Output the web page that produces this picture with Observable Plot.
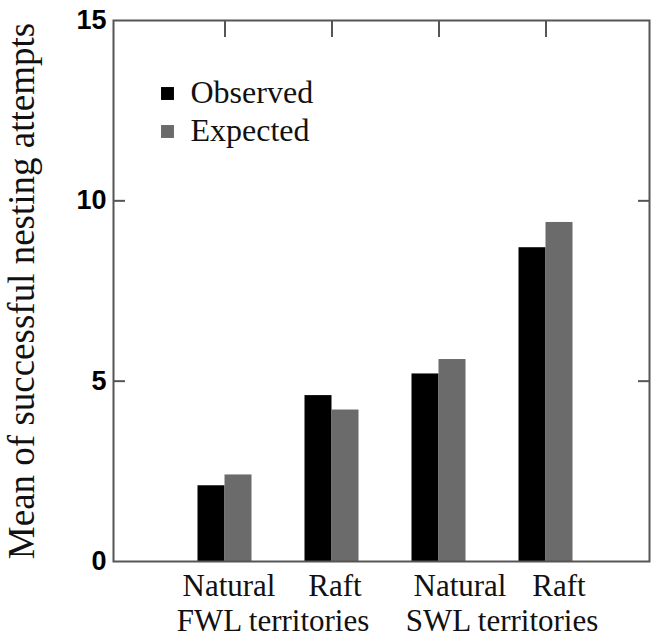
<!DOCTYPE html>
<html>
<head>
<meta charset="utf-8">
<script src="https://cdn.jsdelivr.net/npm/d3@7"></script>
<script src="https://cdn.jsdelivr.net/npm/@observablehq/plot@0.6"></script>
<style>
  html, body { margin: 0; padding: 0; background: #fff; }
  #chart { width: 651px; height: 637px; }
  svg [aria-label="y-axis tick label"] { font-family: "Liberation Sans", Arial, sans-serif; font-size: 27px; font-weight: bold; }
</style>
</head>
<body>
<div id="chart"></div>
<script>
const groups = ["Natural FWL", "Raft FWL", "Natural SWL", "Raft SWL"];
const series = ["Observed", "Expected"];
const observed = [2.1, 4.6, 5.2, 8.7];
const expected = [2.4, 4.2, 5.6, 9.4];
const yTicks = [0, 5, 10, 15];
const innerTicks = [5, 10];
const groupLabels = ["Natural", "Raft", "Natural", "Raft"];
const territoryLabels = ["FWL territories", "SWL territories"];
const yLabel = "Mean of successful nesting attempts";
const colors = ["#000000", "#6b6b6b"];

const rows = [];
groups.forEach((g, i) => {
  rows.push({group: g, series: "Observed", value: observed[i]});
  rows.push({group: g, series: "Expected", value: expected[i]});
});

const serif = "'Liberation Serif', 'Times New Roman', serif";
const frameColor = "#555";

const labelDx = [4, 3, 21, 13];
const territoryDx = [48, 63];

const plot = Plot.plot({
  width: 651,
  height: 637,
  marginLeft: 113,
  marginRight: 2,
  marginTop: 20,
  marginBottom: 76,
  style: {background: "#fff", color: "#000", overflow: "visible"},
  x: {domain: groups, paddingInner: 0.75, paddingOuter: 0.857, align: 0.52},
  y: {domain: [0, 15]},
  color: {domain: series, range: colors},
  marks: [
    Plot.barY(rows.filter(d => d.series === "Observed"), {x: "group", y: "value", fill: "series", dx: -13.5}),
    Plot.barY(rows.filter(d => d.series === "Expected"), {x: "group", y: "value", fill: "series", dx: 13.5}),
    Plot.frame({stroke: frameColor, strokeWidth: 2}),
    Plot.axisY({anchor: "left", ticks: yTicks, tickSize: 0, tickPadding: 7, label: null,
      fontSize: 27, fontWeight: "bold", fontFamily: "'Liberation Sans', Arial, sans-serif"}),
    Plot.axisY({anchor: "left", ticks: innerTicks, tickSize: -12, fill: "none", stroke: frameColor, strokeWidth: 2, label: null}),
    Plot.axisY({anchor: "right", ticks: innerTicks, tickSize: -12, fill: "none", stroke: frameColor, strokeWidth: 2, label: null}),
    Plot.axisX({anchor: "top", tickSize: -16, fill: "none", stroke: frameColor, strokeWidth: 2, label: null}),
    ...groupLabels.map((t, i) => Plot.text([groups[i]], {
      x: d => d, text: [t], frameAnchor: "bottom", lineAnchor: "bottom", dy: 34, dx: labelDx[i],
      fontSize: 31, fontFamily: serif, fill: "#111"
    })),
    ...territoryLabels.map((t, i) => Plot.text([groups[i * 2]], {
      x: d => d, text: [t], frameAnchor: "bottom", lineAnchor: "bottom", dy: 69, dx: territoryDx[i],
      fontSize: 31, fontFamily: serif, fill: "#111"
    })),
    Plot.text([yLabel], {
      text: d => d, frameAnchor: "left", textAnchor: "middle", rotate: -90, lineAnchor: "bottom", dx: -80,
      fontSize: 37, fontFamily: serif, fill: "#111"
    }),
    ...series.map((s, i) => Plot.dot([s], {
      frameAnchor: "top-left", dx: 54, dy: 73 + i * 38, symbol: "square", r: 7.3, fill: colors[i], stroke: "none"
    })),
    ...series.map((s, i) => Plot.text([s], {
      text: d => d, frameAnchor: "top-left", textAnchor: "start", lineAnchor: "bottom", dx: 77, dy: 82 + i * 38,
      fontSize: 32, fontFamily: serif, fill: "#111"
    }))
  ]
});
document.getElementById("chart").appendChild(plot);
</script>
</body>
</html>
